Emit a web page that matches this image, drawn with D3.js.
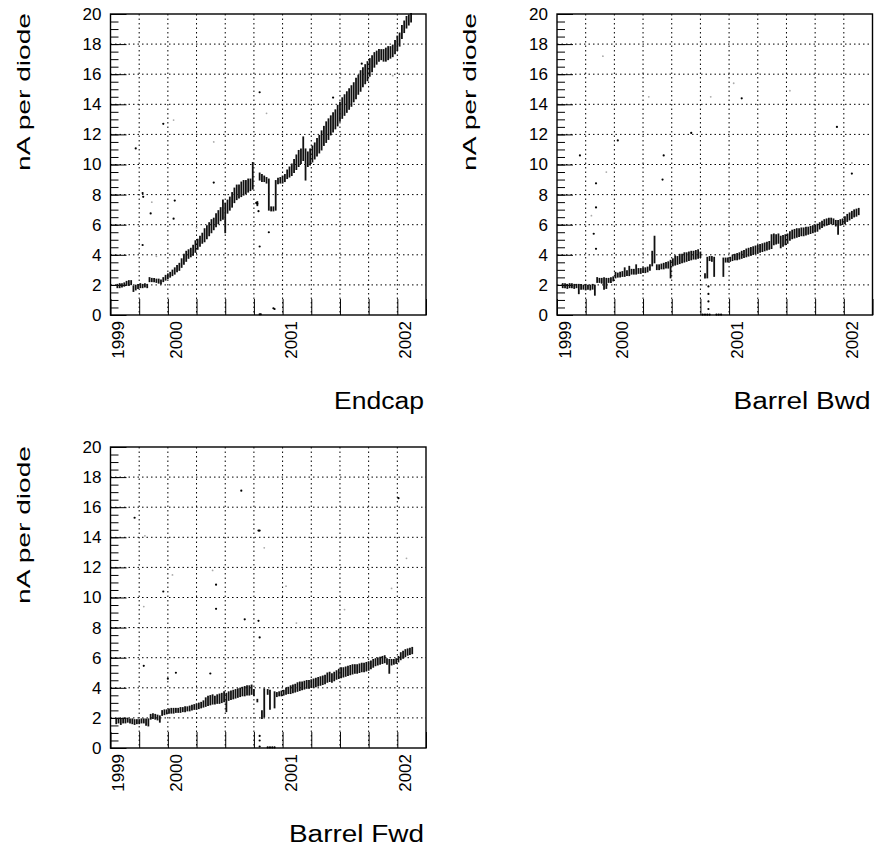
<!DOCTYPE html>
<html>
<head>
<meta charset="utf-8">
<script src="https://cdn.jsdelivr.net/npm/d3@7"></script>
<style>
  body { margin: 0; background: #fff; }
</style>
</head>
<body>
<div id="chart"></div>
<script>
// panel names
var panelTitles = ["Endcap", "Barrel Bwd", "Barrel Fwd"];

// x axis: quarter-year divisions and the year labels
var quarterTicks = [1999.5, 1999.75, 2000, 2000.25, 2000.5, 2000.75, 2001, 2001.25, 2001.5, 2001.75, 2002, 2002.25];
var labelYears = [1999.5, 2000, 2001, 2002];
var labelTexts = ["1999", "2000", "2001", "2002"];
var yMajor = [0, 2, 4, 6, 8, 10, 12, 14, 16, 18, 20];

// [year, low, high] of the dense band of readings
var endcapBand = [
  [1999.56,1.85,2.0],[1999.58,1.85,2.05],[1999.60,1.9,2.05],[1999.62,1.95,2.1],[1999.64,2.0,2.2],[1999.66,2.0,2.25],
  [1999.68,2.05,2.25],[1999.70,1.6,1.9],[1999.72,1.7,1.95],[1999.74,1.8,2.0],[1999.76,1.85,2.05],[1999.78,1.85,2.0],
  [1999.80,1.9,2.05],[1999.82,1.85,2.0],[1999.84,2.25,2.45],[1999.86,2.25,2.4],[1999.88,2.25,2.4],[1999.90,2.2,2.35],
  [1999.92,2.15,2.35],[1999.94,2.1,2.3],[1999.96,2.25,2.45],[1999.98,2.35,2.6],[2000.00,2.45,2.7],[2000.02,2.55,2.8],
  [2000.04,2.65,2.95],[2000.06,2.75,3.1],[2000.08,2.9,3.25],[2000.10,3.0,3.4],[2000.12,3.2,3.7],[2000.14,3.4,4.0],
  [2000.16,3.6,4.2],[2000.18,3.8,4.3],[2000.20,3.9,4.4],[2000.22,4.0,4.6],[2000.24,4.2,4.9],[2000.26,4.4,5.0],
  [2000.28,4.6,5.2],[2000.30,4.8,5.4],[2000.32,4.9,5.7],[2000.34,5.1,5.9],[2000.36,5.3,6.1],[2000.38,5.5,6.3],
  [2000.40,5.7,6.4],[2000.42,5.9,6.7],[2000.44,6.1,6.9],[2000.46,6.3,7.1],[2000.48,6.4,7.6],[2000.50,5.5,7.4],
  [2000.52,6.8,7.6],[2000.54,7.0,7.8],[2000.56,7.2,8.1],[2000.58,7.5,8.4],[2000.60,7.7,8.6],[2000.62,7.8,8.6],
  [2000.64,7.9,8.8],[2000.66,8.0,8.9],[2000.68,8.1,8.9],[2000.70,8.2,9.0],[2000.72,8.3,9.0],[2000.74,8.4,10.1],
  [2000.78,7.3,7.5],[2000.80,9.0,9.4],[2000.82,8.9,9.3],[2000.84,8.9,9.2],[2000.86,8.8,9.1],[2000.88,7.0,9.0],
  [2000.90,6.95,7.15],[2000.92,6.95,7.15],[2000.94,7.0,8.9],[2000.96,8.75,9.05],[2000.98,8.8,9.1],[2001.00,8.8,9.2],
  [2001.02,8.9,9.3],[2001.04,9.1,9.6],[2001.06,9.2,9.8],[2001.08,9.3,10.0],[2001.10,9.5,10.3],[2001.12,9.7,10.6],
  [2001.14,9.9,10.9],[2001.16,10.1,11.0],[2001.18,10.3,11.8],[2001.20,9.0,11.0],[2001.22,9.9,10.8],[2001.24,10.0,11.0],
  [2001.26,10.2,11.2],[2001.28,10.4,11.4],[2001.30,10.6,11.7],[2001.32,10.8,11.9],[2001.34,11.0,12.2],[2001.36,11.3,12.5],
  [2001.38,11.5,12.8],[2001.40,11.7,13.0],[2001.42,12.0,13.2],[2001.44,12.2,13.4],[2001.46,12.4,13.6],[2001.48,12.6,13.9],
  [2001.50,12.9,14.1],[2001.52,13.1,14.4],[2001.54,13.3,14.6],[2001.56,13.5,14.8],[2001.58,13.7,15.0],[2001.60,13.9,15.2],
  [2001.62,14.2,15.4],[2001.64,14.4,15.7],[2001.66,14.7,15.9],[2001.68,14.9,16.2],[2001.70,15.2,16.4],[2001.72,15.4,16.6],
  [2001.74,15.6,16.8],[2001.76,15.9,17.0],[2001.78,16.2,17.2],[2001.80,16.5,17.4],[2001.82,16.7,17.5],[2001.84,16.9,17.6],
  [2001.86,17.0,17.6],[2001.88,16.9,17.6],[2001.90,16.9,17.7],[2001.92,17.0,17.8],[2001.94,17.1,17.8],[2001.96,17.2,17.9],
  [2001.98,17.4,18.2],[2002.00,17.6,18.5],[2002.02,17.9,18.7],[2002.04,18.4,19.2],[2002.06,18.8,19.5],[2002.08,19.1,19.8],
  [2002.10,19.3,19.9],[2002.12,19.5,20.0]
];
var bwdBand = [
  [1999.55,1.85,2.05],[1999.57,1.85,2.05],[1999.59,1.8,2.0],[1999.61,1.85,2.05],[1999.63,1.85,2.05],[1999.65,1.8,2.0],
  [1999.67,1.85,2.0],[1999.69,1.45,2.0],[1999.71,1.75,2.0],[1999.73,1.75,1.95],[1999.75,1.7,2.0],[1999.77,1.75,1.95],
  [1999.79,1.7,1.95],[1999.81,1.75,2.0],[1999.83,1.35,1.95],[1999.85,2.2,2.45],[1999.87,2.2,2.4],[1999.89,2.15,2.4],
  [1999.91,1.75,2.45],[1999.93,1.8,2.4],[1999.95,2.2,2.4],[1999.97,2.2,2.45],[1999.99,2.3,2.5],[2000.01,2.5,2.8],
  [2000.03,2.55,2.75],[2000.05,2.55,2.8],[2000.07,2.6,2.85],[2000.09,2.6,3.1],[2000.11,2.65,2.9],[2000.13,2.65,3.2],
  [2000.15,2.75,3.0],[2000.17,2.75,3.0],[2000.19,2.75,3.3],[2000.21,2.8,3.05],[2000.23,2.8,3.05],[2000.25,2.85,3.1],
  [2000.27,2.85,3.1],[2000.29,2.9,3.15],[2000.31,3.0,3.3],[2000.33,3.3,4.2],[2000.35,3.5,5.2],[2000.37,3.05,3.3],
  [2000.39,3.05,3.3],[2000.41,3.1,3.35],[2000.43,3.1,3.4],[2000.45,3.15,3.45],[2000.47,3.15,3.5],[2000.49,2.5,3.6],
  [2000.51,3.3,3.7],[2000.53,3.35,3.9],[2000.55,3.4,3.85],[2000.57,3.45,4.0],[2000.59,3.5,4.0],[2000.61,3.55,4.1],
  [2000.63,3.6,4.1],[2000.65,3.65,4.15],[2000.67,3.7,4.2],[2000.69,3.75,4.2],[2000.71,3.75,4.25],[2000.73,3.8,4.3],
  [2000.75,3.85,4.15],[2000.79,2.5,2.7],[2000.81,2.5,3.8],[2000.83,3.65,3.85],[2000.85,3.6,3.85],[2000.87,2.6,3.8],
  [2000.95,2.6,3.75],[2000.97,3.55,3.75],[2000.99,3.55,3.75],[2001.01,3.6,3.8],[2001.03,3.65,3.95],[2001.05,3.7,4.0],
  [2001.07,3.7,4.05],[2001.09,3.75,4.1],[2001.11,3.8,4.2],[2001.13,3.85,4.25],[2001.15,3.9,4.35],[2001.17,3.95,4.4],
  [2001.19,4.0,4.45],[2001.21,4.05,4.5],[2001.23,4.1,4.55],[2001.25,4.15,4.6],[2001.27,4.2,4.65],[2001.29,4.25,4.7],
  [2001.31,4.3,4.75],[2001.33,4.35,4.8],[2001.35,4.4,4.85],[2001.37,4.45,5.3],[2001.39,4.7,5.35],[2001.41,4.75,5.3],
  [2001.43,4.8,5.35],[2001.45,4.5,5.2],[2001.47,4.6,5.25],[2001.49,4.7,5.3],[2001.51,4.8,5.35],[2001.53,5.0,5.5],
  [2001.55,5.1,5.6],[2001.57,5.15,5.65],[2001.59,5.2,5.7],[2001.61,5.25,5.7],[2001.63,5.3,5.75],[2001.65,5.3,5.75],
  [2001.67,5.35,5.8],[2001.69,5.4,5.8],[2001.71,5.45,5.85],[2001.73,5.5,5.9],[2001.75,5.55,5.95],[2001.77,5.6,6.0],
  [2001.79,5.75,6.1],[2001.81,5.85,6.2],[2001.83,5.95,6.3],[2001.85,6.0,6.35],[2001.87,6.05,6.4],[2001.89,6.1,6.4],
  [2001.91,6.05,6.35],[2001.93,5.95,6.25],[2001.95,5.4,6.25],[2001.97,6.0,6.3],[2001.99,6.05,6.35],[2002.01,6.1,6.5],
  [2002.03,6.25,6.65],[2002.05,6.35,6.75],[2002.07,6.45,6.85],[2002.09,6.55,6.95],[2002.11,6.6,7.0],[2002.13,6.7,7.05]
];
var fwdBand = [
  [1999.55,1.65,1.9],[1999.57,1.7,1.95],[1999.59,1.6,1.9],[1999.61,1.7,1.95],[1999.63,1.7,1.95],[1999.65,1.75,1.95],
  [1999.67,1.7,1.9],[1999.69,1.65,1.9],[1999.71,1.6,1.85],[1999.73,1.65,1.85],[1999.75,1.65,1.85],[1999.77,1.7,1.9],
  [1999.79,1.7,1.9],[1999.81,1.55,1.9],[1999.83,1.5,1.9],[1999.85,1.95,2.2],[1999.87,2.0,2.25],[1999.89,1.95,2.2],
  [1999.91,1.9,2.15],[1999.93,1.75,2.1],[1999.95,2.2,2.45],[1999.97,2.25,2.5],[1999.99,2.3,2.5],[2000.01,2.35,2.55],
  [2000.03,2.35,2.6],[2000.05,2.35,2.6],[2000.07,2.4,2.6],[2000.09,2.4,2.6],[2000.11,2.4,2.65],[2000.13,2.45,2.65],
  [2000.15,2.45,2.7],[2000.17,2.5,2.7],[2000.19,2.5,2.75],[2000.21,2.55,2.8],[2000.23,2.6,2.85],[2000.25,2.6,2.9],
  [2000.27,2.65,2.95],[2000.29,2.7,3.0],[2000.31,2.75,3.1],[2000.33,2.8,3.3],[2000.35,2.85,3.4],[2000.37,2.9,3.45],
  [2000.39,2.95,3.5],[2000.41,2.95,3.4],[2000.43,3.0,3.5],[2000.45,3.0,3.55],[2000.47,3.05,3.6],[2000.49,3.1,3.7],
  [2000.51,2.45,3.6],[2000.53,3.2,3.7],[2000.55,3.25,3.75],[2000.57,3.3,3.8],[2000.59,3.35,3.85],[2000.61,3.4,3.9],
  [2000.63,3.45,3.95],[2000.65,3.5,4.0],[2000.67,3.5,4.05],[2000.69,3.55,4.1],[2000.71,3.55,4.1],[2000.73,3.6,4.15],
  [2000.75,3.5,3.85],[2000.78,3.1,3.2],[2000.82,2.0,2.45],[2000.84,2.1,3.9],[2000.87,3.6,3.85],[2000.89,2.6,3.8],
  [2000.93,2.7,3.7],[2000.95,3.45,3.65],[2000.97,3.5,3.7],[2000.99,3.5,3.75],[2001.01,3.55,3.8],[2001.03,3.6,3.95],
  [2001.05,3.65,4.0],[2001.07,3.65,4.1],[2001.09,3.7,4.15],[2001.11,3.75,4.2],[2001.13,3.8,4.3],[2001.15,3.85,4.35],
  [2001.17,3.9,4.35],[2001.19,3.95,4.4],[2001.21,4.0,4.45],[2001.23,4.0,4.45],[2001.25,4.05,4.5],[2001.27,4.05,4.55],
  [2001.29,4.1,4.6],[2001.31,4.15,4.65],[2001.33,4.2,4.7],[2001.35,4.25,4.75],[2001.37,4.3,4.8],[2001.39,4.4,4.95],
  [2001.41,4.45,5.0],[2001.43,4.4,4.9],[2001.45,4.5,5.0],[2001.47,4.6,5.1],[2001.49,4.65,5.2],[2001.51,4.7,5.3],
  [2001.53,4.75,5.3],[2001.55,4.8,5.35],[2001.57,4.85,5.4],[2001.59,4.9,5.45],[2001.61,4.95,5.5],[2001.63,5.0,5.5],
  [2001.65,5.0,5.5],[2001.67,5.05,5.55],[2001.69,5.1,5.6],[2001.71,5.1,5.6],[2001.73,5.15,5.65],[2001.75,5.2,5.7],
  [2001.77,5.3,5.75],[2001.79,5.4,5.85],[2001.81,5.5,5.9],[2001.83,5.55,5.95],[2001.85,5.6,6.0],[2001.87,5.65,6.05],
  [2001.89,5.7,6.1],[2001.91,5.6,5.9],[2001.93,5.0,5.85],[2001.95,5.55,5.85],[2001.97,5.6,5.85],[2001.99,5.65,5.9],
  [2002.01,5.75,6.05],[2002.03,5.9,6.3],[2002.05,6.0,6.4],[2002.07,6.1,6.5],[2002.09,6.2,6.55],[2002.11,6.25,6.6],
  [2002.13,6.3,6.65]
];

// isolated readings [year, value]
var endcapDots = [
  [1999.72,11.07],[1999.78,8.1],[1999.785,7.85],[1999.85,6.75],[1999.78,4.65],[1999.96,12.7],[2000.06,7.6],
  [2000.05,6.4],[2000.40,8.8],[2000.80,14.8],[2000.80,4.55],[2000.88,5.5],[2001.44,14.45],[2001.69,16.7],
  [2000.80,0.05],[2000.81,0.05],[2000.92,0.45],[2000.93,0.4],[2000.77,7.45],[2000.78,7.4],[2000.79,6.9]
];
var endcapFaint = [[1999.86,7.5],[2000.40,11.5],[2000.86,13.4],[2000.05,12.95],[2001.96,15.9],[1999.9,3.9],[2000.25,5.8]];
var bwdDots = [
  [1999.70,10.6],[1999.84,8.75],[1999.84,7.15],[1999.82,5.4],[1999.84,4.4],[2000.03,11.6],[2000.43,10.6],
  [2000.42,9.0],[2000.67,12.1],[2001.11,14.4],[2001.94,12.5],[2002.07,9.4],[2000.82,0.4],[2000.82,0.9],
  [2000.82,1.4],[2000.82,1.9],[2000.77,0.03],[2000.79,0.03],[2000.81,0.03],[2000.83,0.03],[2000.89,0.03],
  [2000.91,0.03],[2000.93,0.03]
];
var bwdFaint = [[1999.9,17.2],[2002.07,10.1],[2001.04,15.4],[2001.53,14.9],[2000.84,14.5],[1999.93,9.5],[1999.80,6.6],[2000.30,14.5]];
var fwdDots = [
  [1999.71,15.3],[1999.79,5.46],[1999.96,10.4],[2000.0,4.6],[2000.07,5.0],[2000.37,4.95],[2000.42,10.85],
  [2000.42,9.25],[2000.64,17.1],[2000.67,8.55],[2000.79,14.45],[2000.80,14.45],[2000.79,8.45],[2000.80,7.35],
  [2002.01,16.6],[2000.80,0.1],[2000.80,0.5],[2000.80,0.8],[2000.87,0.04],[2000.89,0.04],[2000.91,0.04],[2000.93,0.04]
];
var fwdFaint = [[1999.79,9.4],[2000.04,11.5],[2000.39,11.8],[2000.84,13.3],[2001.03,10.75],[2001.12,8.3],[2001.54,9.2],[2001.95,10.6],[2002.08,12.6],[1999.80,14.1]];

var svgWidth = 874;
var svgHeight = 848;
var panelWidth = 315.5;
var panelHeight = 301;

// panel placement and the stretched title widths
var panels = [
  { title: panelTitles[0], band: endcapBand, dots: endcapDots, faint: endcapFaint, left: 110.5, top: 14, titleLen: 90 },
  { title: panelTitles[1], band: bwdBand, dots: bwdDots, faint: bwdFaint, left: 557, top: 14, titleLen: 137 },
  { title: panelTitles[2], band: fwdBand, dots: fwdDots, faint: fwdFaint, left: 110.5, top: 447, titleLen: 135 }
];

var svg = d3.select("#chart")
  .append("svg")
  .attr("width", svgWidth)
  .attr("height", svgHeight)
  .style("font-family", "'Liberation Sans', Arial, Helvetica, sans-serif");

var xScale = d3.scaleLinear().domain([1999.5, 2002.25]).range([0, panelWidth]);
var yScale = d3.scaleLinear().domain([0, 20]).range([panelHeight, 0]);

panels.forEach(function(p) {
  var g = svg.append("g").attr("transform", `translate(${p.left}, ${p.top})`);

  // dotted grid
  g.append("g").selectAll("line")
    .data(quarterTicks.filter(d => d > 1999.5 && d < 2002.25))
    .enter().append("line")
    .attr("x1", d => xScale(d)).attr("x2", d => xScale(d))
    .attr("y1", 0).attr("y2", panelHeight)
    .attr("stroke", "#000").attr("stroke-width", 1).attr("stroke-dasharray", "1.5,3");
  g.append("g").selectAll("line")
    .data(yMajor.filter(d => d > 0 && d < 20))
    .enter().append("line")
    .attr("x1", 0).attr("x2", panelWidth)
    .attr("y1", d => yScale(d)).attr("y2", d => yScale(d))
    .attr("stroke", "#000").attr("stroke-width", 1).attr("stroke-dasharray", "1.5,3");

  // inward ticks, minor then major with labels
  g.append("g")
    .call(d3.axisLeft(yScale).ticks(40).tickSize(-8).tickFormat(""))
    .call(a => a.select(".domain").remove());
  var yAx = g.append("g")
    .call(d3.axisLeft(yScale).tickValues(yMajor).tickSize(-16).tickPadding(9).tickFormat(d3.format("d")));
  yAx.select(".domain").remove();
  yAx.selectAll("text").attr("font-size", 17).attr("font-family", "'Liberation Sans', Arial, sans-serif").attr("fill", "#000");

  g.append("g")
    .attr("transform", `translate(0, ${panelHeight})`)
    .call(d3.axisBottom(xScale).tickValues(quarterTicks).tickSize(-16).tickFormat(""))
    .call(a => a.select(".domain").remove());

  // readings
  g.append("g").selectAll("circle")
    .data(p.faint)
    .enter().append("circle")
    .attr("cx", d => xScale(d[0])).attr("cy", d => yScale(d[1]))
    .attr("r", 0.9).attr("fill", "#aaa");

  g.append("g").selectAll("line")
    .data(p.band)
    .enter().append("line")
    .attr("x1", d => xScale(d[0])).attr("x2", d => xScale(d[0]))
    .attr("y1", d => yScale(d[1]) + 1).attr("y2", d => yScale(d[2]) - 1)
    .attr("stroke", "#111").attr("stroke-width", 1.8);

  g.append("g").selectAll("circle")
    .data(p.dots)
    .enter().append("circle")
    .attr("cx", d => xScale(d[0])).attr("cy", d => yScale(d[1]))
    .attr("r", 1.1).attr("fill", "#000");

  // frame
  g.append("rect")
    .attr("width", panelWidth).attr("height", panelHeight)
    .attr("fill", "none").attr("stroke", "#000").attr("stroke-width", 1.4);

  // rotated year labels
  labelYears.forEach(function(yr, i) {
    g.append("text")
      .attr("transform", `translate(${xScale(yr) + 8}, ${panelHeight + 6}) rotate(-90)`)
      .attr("text-anchor", "end")
      .attr("dy", "0.35em")
      .attr("font-size", 17)
      .text(labelTexts[i]);
  });

  // axis titles
  g.append("text")
    .attr("transform", `translate(-81, -1) rotate(-90)`)
    .attr("text-anchor", "end")
    .attr("font-size", 18)
    .attr("textLength", 158)
    .attr("lengthAdjust", "spacingAndGlyphs")
    .text("nA per diode");

  g.append("text")
    .attr("x", panelWidth - 2)
    .attr("y", panelHeight + 94)
    .attr("text-anchor", "end")
    .attr("font-size", 23)
    .attr("textLength", p.titleLen)
    .attr("lengthAdjust", "spacingAndGlyphs")
    .text(p.title);
});
</script>
</body>
</html>
